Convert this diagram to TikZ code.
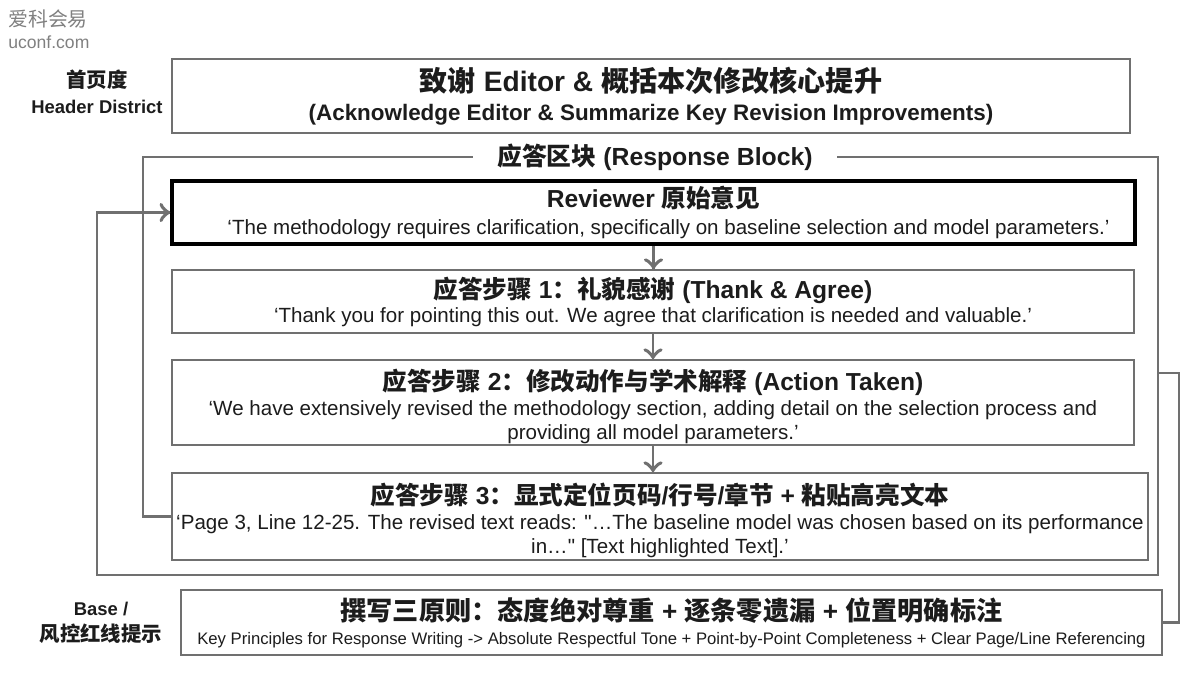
\documentclass[tikz,border=0pt]{standalone}
\usepackage{fontspec}
\setmainfont{Liberation Sans}[Ligatures=TeXOff]
\newfontfamily\cjk{Noto Sans CJK SC}
\newcommand{\zh}[1]{{\cjk #1}}
\newcommand{\ttlfont}{\bfseries\fontsize{14pt}{16pt}\selectfont}
\definecolor{linegray}{HTML}{707070}
\definecolor{inkgray}{HTML}{1C1C1C}
\usetikzlibrary{decorations.markings}
\tikzset{->/.style = {decoration={markings, mark=at position 1 with {\arrow[scale=1.8]{to}}}, postaction={decorate}}}

\begin{document}
\begin{tikzpicture}[x=0.02cm, y=-0.02cm,
    panel/.style={draw=linegray, line width=1.2pt, fill=white, align=center,
        inner sep=0pt, text=inkgray, font=\fontsize{11.7pt}{13.6pt}\selectfont},
    revbox/.style={panel, draw=black, line width=2.2pt},
    link/.style={draw=linegray, line width=1.2pt},
    sidelabel/.style={align=center, text=inkgray,
        font=\bfseries\fontsize{10.5pt}{14.7pt}\selectfont},
    ]
    % Page size
    \useasboundingbox (0,0) rectangle (1200,680);

    % Watermark
    \node[anchor=north west, align=left, text=gray, inner sep=0pt,
        font=\fontsize{10pt}{13pt}\selectfont] (mark) at (8,9)
        {{\fontsize{11.3pt}{13pt}\selectfont\zh{爱科会易}}\\uconf.com};

    % Header
    \node[panel, minimum width=19.16cm, minimum height=1.48cm] (header) at (651,96)
        {{\bfseries\fontsize{16pt}{18.7pt}\selectfont\zh{致谢} Editor \& \zh{概括本次修改核心提升}}\\[3pt]
         {\bfseries\fontsize{12.75pt}{16pt}\selectfont (Acknowledge Editor \& Summarize Key Revision Improvements)}};
    \node[sidelabel] (headlabel) at (97,92)
        {{\fontsize{11.6pt}{14pt}\selectfont\zh{首页度}}\\Header District};

    % Response block
    \node[revbox, minimum width=19.26cm, minimum height=1.26cm] (reviewer) at (653.5,212.5)
        {{\ttlfont Reviewer \zh{原始意见}}\\[2pt]
         \hspace*{0.6cm}‘The methodology requires clarification, specifically on baseline selection and model parameters.’};
    \node[panel, minimum width=19.24cm, minimum height=1.26cm] (step1) at (653,301.5)
        {{\ttlfont\zh{应答步骤} 1\zh{：礼貌感谢} (Thank \& Agree)}\\
         ‘Thank you for pointing this out. We agree that clarification is needed and valuable.’};
    \node[panel, minimum width=19.24cm, minimum height=1.70cm] (step2) at (653,402.5)
        {{\ttlfont\rule{0pt}{16.5pt}\zh{应答步骤} 2\zh{：修改动作与学术解释} (Action Taken)}\\[1pt]
         ‘We have extensively revised the methodology section, adding detail on the selection process and\\
         providing all model parameters.’};
    \node[panel, minimum width=19.52cm, minimum height=1.74cm] (step3) at (660,516.5)
        {{\ttlfont\rule{0pt}{16.5pt}\zh{应答步骤} 3\zh{：显式定位页码}/\zh{行号}/\zh{章节} + \zh{粘贴高亮文本}}\\[1pt]
         ‘Page 3, Line 12-25. The revised text reads: "…The baseline model was chosen based on its performance\\
         in…" [Text highlighted Text].’};

    % Frame and feedback loop
    \coordinate (fTL) at (143,157);
    \coordinate (fTR) at (1158,157);
    \coordinate (fBR) at (1158,575);
    \coordinate (fBL) at (97,575);
    \draw[link,->] (step3.west) -| (fTL) -- (fTR) -- (fBR) -- (fBL) |- (reviewer.west);
    \node[fill=white, inner xsep=14pt, text=inkgray,
        font=\bfseries\fontsize{14.1pt}{16pt}\selectfont] (blocktitle) at (655,157)
        {\zh{应答区块} (Response Block)};

    % Steps
    \draw[link,->] (reviewer.south) -- (reviewer.south |- step1.north);
    \draw[link,->] (step1.south) -- (step1.south |- step2.north);
    \draw[link,->] (step2.south) -- (step2.south |- step3.north);

    % Base
    \node[panel, minimum width=19.62cm, minimum height=1.30cm] (base) at (671.5,622.5)
        {{\bfseries\fontsize{14.9pt}{17pt}\selectfont\zh{撰写三原则：态度绝对尊重} + \zh{逐条零遗漏} + \zh{位置明确标注}}\\
         {\fontsize{9.5pt}{12pt}\selectfont Key Principles for Response Writing -> Absolute Respectful Tone + Point-by-Point Completeness + Clear Page/Line Referencing}};
    \node[sidelabel] (baselabel) at (101,623)
        {Base /\\{\fontsize{11.6pt}{14pt}\selectfont\zh{风控红线提示}}};
    \coordinate (fR) at (1158,373);
    \draw[link] (fR) -- ++(21,0) |- (base.east);
\end{tikzpicture}
\end{document}
